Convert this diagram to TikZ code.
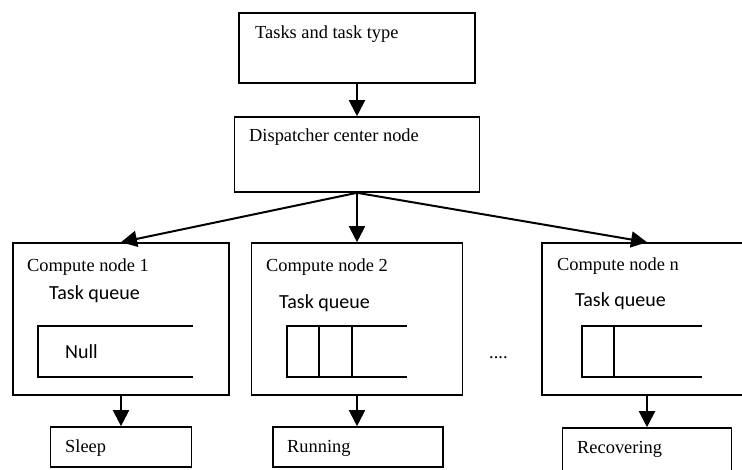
\documentclass[tikz,border=0pt]{standalone}
\usepackage{fontspec}
\setmainfont{Liberation Serif}
\newfontfamily\queuefont{Carlito}
\usetikzlibrary{arrows.meta,positioning}

\begin{document}
\begin{tikzpicture}[x=1pt, y=-1pt,
   box/.style={draw, line width=1.6pt, inner sep=0pt},
   txt/.style={anchor=base west, inner sep=0pt, font=\fontsize{18.4}{22}\selectfont},
   qtxt/.style={anchor=base west, inner sep=0pt, font=\queuefont\fontsize{20}{24}\selectfont},
   link/.style={line width=2pt, -{Triangle[length=16pt,width=16pt]}}]
   \useasboundingbox (0,0) rectangle (742,470);
   \clip (0,0) rectangle (742,470);

   % top part
   \node (tasks) at (357,48) [box, minimum width=236, minimum height=70] {};
   \node (disp) at (357,154.5) [box, minimum width=245, minimum height=75] {};
   \node (tasksT) at (255,39) [txt] {Tasks and task type};
   \node (dispT) at (249,142) [txt] {Dispatcher center node};

   % compute nodes
   \node (cn1) at (121,319) [box, minimum width=216, minimum height=152] {};
   \node (cn2) at (357,319) [box, minimum width=211, minimum height=152] {};
   \node (cnn) at (647,319) [box, minimum width=210, minimum height=152] {};
   \node (cn1T) at (27,272) [txt] {Compute node 1};
   \node (cn2T) at (266,272) [txt] {Compute node 2};
   \node (cnnT) at (557,271) [txt] {Compute node n};
   \node (q1T) at (49,300) [qtxt] {Task queue};
   \node (q2T) at (279,309) [qtxt] {Task queue};
   \node (qnT) at (575,307) [qtxt] {Task queue};
   \node (dots) at (489,359) [txt] {....};

   % queues
   \draw[line width=1.6pt] (193,326) -| (38,377) -- (193,377);
   \node (nullT) at (65,359) [qtxt] {Null};
   \draw[line width=1.6pt] (407,326) -| (287,377) -- (407,377);
   \foreach \qx in {319,352}
      \draw[line width=1.6pt] (\qx,326) -- (\qx,377);
   \draw[line width=1.6pt] (702,326) -| (582,377) -- (702,377);
   \draw[line width=1.6pt] (614,326) -- (614,377);

   % states
   \node (sleep) at (121,447) [box, minimum width=141, minimum height=40] {};
   \node (run) at (358,447) [box, minimum width=170, minimum height=40] {};
   \node (recov) at (647,453) [box, minimum width=169, minimum height=50] {};
   \node (sleepT) at (65,452) [txt] {Sleep};
   \node (runT) at (287,452) [txt] {Running};
   \node (recovT) at (577,453) [txt] {Recovering};

   \draw (tasks.south)[link] -- (disp.north);
   \draw (disp.south)[link] -- (cn1.north);
   \draw (disp.south)[link] -- (cn2.north);
   \draw (disp.south)[link] -- (cnn.north);
   \draw (cn1.south)[link] -- (cn1.south |- sleep.north);
   \draw (cn2.south)[link] -- (cn2.south |- run.north);
   \draw (cnn.south)[link] -- (cnn.south |- recov.north);
\end{tikzpicture}
\end{document}
